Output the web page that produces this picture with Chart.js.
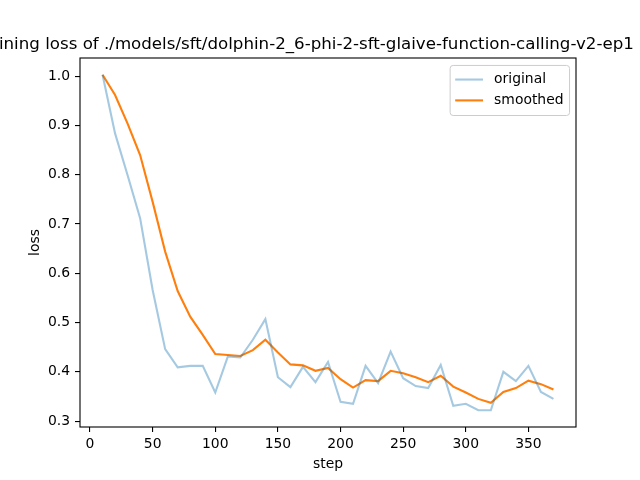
<!DOCTYPE html>
<html>
<head>
<meta charset="utf-8">
<script src="https://cdn.jsdelivr.net/npm/chart.js@4/dist/chart.umd.min.js"></script>
<style>
  html, body { margin: 0; padding: 0; background: #fff; }
  #wrap { width: 640px; height: 480px; }
</style>
</head>
<body>
<div id="wrap"><canvas id="chart" width="640" height="480"></canvas></div>
<script>
const chartTitle = 'Training loss of ./models/sft/dolphin-2_6-phi-2-sft-glaive-function-calling-v2-ep1';
const steps = [10, 20, 30, 40, 50, 60, 70, 80, 90, 100, 110, 120, 130, 140, 150, 160, 170, 180, 190,
    200, 210, 220, 230, 240, 250, 260, 270, 280, 290, 300, 310, 320, 330, 340, 350, 360, 370];
const original = [1.003, 0.884, 0.799, 0.712, 0.566, 0.446, 0.409, 0.412, 0.412, 0.358, 0.431, 0.429, 0.465,
    0.507, 0.389, 0.369, 0.410, 0.379, 0.420, 0.339, 0.335, 0.412, 0.377, 0.441, 0.387, 0.371, 0.367,
    0.414, 0.331, 0.335, 0.322, 0.322, 0.400, 0.381, 0.412, 0.359, 0.345];
const smoothed = [1.003, 0.962, 0.904, 0.840, 0.745, 0.644, 0.564, 0.512, 0.475, 0.436, 0.434, 0.432, 0.444,
    0.465, 0.439, 0.415, 0.413, 0.402, 0.408, 0.385, 0.368, 0.383, 0.381, 0.402, 0.397, 0.389, 0.379,
    0.392, 0.370, 0.358, 0.345, 0.337, 0.359, 0.367, 0.382, 0.375, 0.364];
const xTicks = [0, 50, 100, 150, 200, 250, 300, 350];
const yTicks = [0.3, 0.4, 0.5, 0.6, 0.7, 0.8, 0.9, 1.0];

const FONT = 'DejaVu Sans';

// matplotlib style 5% margins
const xMinD = Math.min(...steps), xMaxD = Math.max(...steps);
const allY = original.concat(smoothed);
const yMinD = Math.min(...allY), yMaxD = Math.max(...allY);
const xPad = (xMaxD - xMinD) * 0.05, yPad = (yMaxD - yMinD) * 0.05;

const toPoints = vals => steps.map((s, i) => ({x: s, y: vals[i]}));

const framePlugin = {
    id: 'frame',
    afterDraw(chart) {
        const {ctx, chartArea: a} = chart;
        ctx.save();
        // axes frame
        ctx.strokeStyle = '#000';
        ctx.lineWidth = 1.1;
        ctx.strokeRect(a.left, a.top, a.right - a.left, a.bottom - a.top);

        // title, overflows the canvas on both sides like the original
        ctx.fillStyle = '#000';
        ctx.font = '16.67px "' + FONT + '"';
        ctx.textAlign = 'center';
        ctx.textBaseline = 'alphabetic';
        ctx.fillText(chartTitle, (a.left + a.right) / 2 - 24, a.top - 9);

        // legend, upper right
        const fs = 13.9;
        ctx.font = fs + 'px "' + FONT + '"';
        const sets = chart.data.datasets;
        const textW = Math.max(...sets.map(d => ctx.measureText(d.label).width));
        const boxW = 0.4 * fs + 2 * fs + 0.8 * fs + textW + 0.4 * fs;
        const rowH = fs * 1.5;
        const boxH = 0.4 * fs * 2 + rowH * sets.length - 0.2 * fs;
        const bx = a.right - 0.5 * fs - boxW;
        const by = a.top + 0.5 * fs;
        ctx.beginPath();
        ctx.roundRect(bx + 0.5, by + 0.5, boxW, boxH, 3);
        ctx.fillStyle = 'rgba(255,255,255,0.8)';
        ctx.fill();
        ctx.strokeStyle = '#cccccc';
        ctx.lineWidth = 1;
        ctx.stroke();
        sets.forEach((d, i) => {
            const cy = by + 0.4 * fs + fs * 0.65 + i * rowH;
            const lx = bx + 0.4 * fs;
            ctx.beginPath();
            ctx.moveTo(lx, cy);
            ctx.lineTo(lx + 2 * fs, cy);
            ctx.strokeStyle = d.borderColor;
            ctx.lineWidth = d.borderWidth;
            ctx.stroke();
            ctx.fillStyle = '#000';
            ctx.textAlign = 'left';
            ctx.textBaseline = 'middle';
            ctx.fillText(d.label, lx + 2.8 * fs, cy);
        });
        ctx.restore();
    }
};

new Chart(document.getElementById('chart').getContext('2d'), {
    type: 'line',
    data: {
        datasets: [{
            label: 'original',
            data: toPoints(original),
            borderColor: 'rgba(31, 119, 180, 0.4)',
            borderWidth: 2.1,
            pointRadius: 0,
            tension: 0,
            fill: false
        }, {
            label: 'smoothed',
            data: toPoints(smoothed),
            borderColor: '#ff7f0e',
            borderWidth: 2.1,
            pointRadius: 0,
            tension: 0,
            fill: false
        }]
    },
    options: {
        responsive: false,
        animation: false,
        layout: {
            padding: {left: 0, right: 64, top: 58, bottom: 0}
        },
        plugins: {
            legend: {display: false},
            title: {display: false},
            tooltip: {enabled: false}
        },
        scales: {
            x: {
                type: 'linear',
                min: xMinD - xPad,
                max: xMaxD + xPad,
                afterBuildTicks: scale => { scale.ticks = xTicks.map(v => ({value: v})); },
                afterFit: scale => { scale.height = 53; },
                border: {display: false},
                grid: {
                    display: true,
                    drawOnChartArea: false,
                    drawTicks: true,
                    tickLength: 5,
                    color: '#000',
                    lineWidth: 1.1
                },
                ticks: {
                    color: '#000',
                    padding: 4,
                    maxRotation: 0,
                    autoSkip: false,
                    font: {family: FONT, size: 13.9},
                    callback: v => String(v)
                },
                title: {
                    display: true,
                    text: 'step',
                    color: '#000',
                    font: {family: FONT, size: 13.9},
                    padding: {top: 0, bottom: 7}
                }
            },
            y: {
                min: yMinD - yPad,
                max: yMaxD + yPad,
                afterBuildTicks: scale => { scale.ticks = yTicks.map(v => ({value: v})); },
                afterFit: scale => { scale.width = 80; },
                border: {display: false},
                grid: {
                    display: true,
                    drawOnChartArea: false,
                    drawTicks: true,
                    tickLength: 5,
                    color: '#000',
                    lineWidth: 1.1
                },
                ticks: {
                    color: '#000',
                    padding: 5,
                    autoSkip: false,
                    font: {family: FONT, size: 13.9},
                    callback: v => v.toFixed(1)
                },
                title: {
                    display: true,
                    text: 'loss',
                    color: '#000',
                    font: {family: FONT, size: 13.9},
                    padding: {top: 27, bottom: 0}
                }
            }
        }
    },
    plugins: [framePlugin]
});
</script>
</body>
</html>
